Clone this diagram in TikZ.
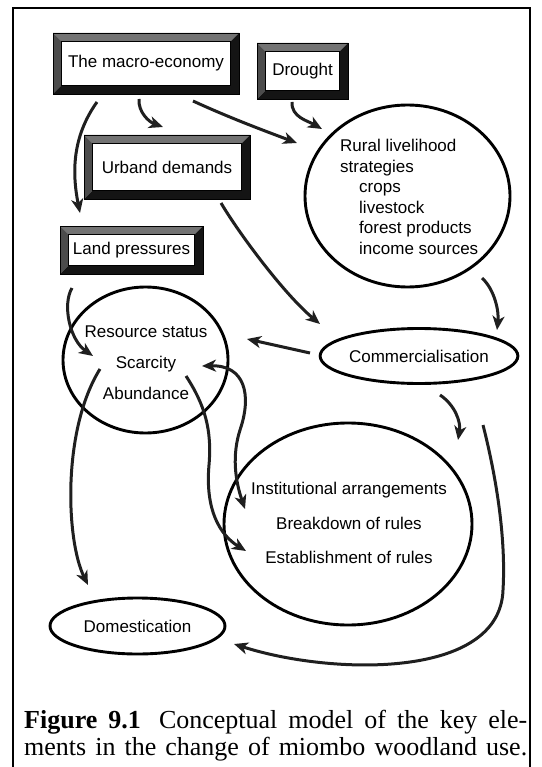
\documentclass[tikz,border=0pt]{standalone}
\usepackage{fontspec}
\setmainfont{Liberation Serif}
\setsansfont{Liberation Sans}
\usepackage{tikz}
\usetikzlibrary{arrows.meta,shapes.geometric,calc}

\newcommand{\diagfont}{\sffamily\fontsize{17}{20.6}\selectfont}

\begin{document}
\begin{tikzpicture}[
    x=1pt, y=-1pt,
    bevelbox/.style={rectangle, draw=black, line width=0.6pt, fill=white,
                     font=\diagfont, inner sep=0pt,
                     path picture={
      \coordinate (bnw) at (path picture bounding box.north west);
      \coordinate (bne) at (path picture bounding box.north east);
      \coordinate (bsw) at (path picture bounding box.south west);
      \coordinate (bse) at (path picture bounding box.south east);
      \fill[black!55] (bnw) -- (bne) -- ([shift={(-8.5pt,-8.5pt)}]bne)
        -- ([shift={(8.5pt,-8.5pt)}]bnw) -- cycle;
      \fill[black!70] (bnw) -- ([shift={(8.5pt,-8.5pt)}]bnw)
        -- ([shift={(8.5pt,8.5pt)}]bsw) -- (bsw) -- cycle;
      \fill[black!92] (bne) -- (bse) -- (bsw) -- ([shift={(8.5pt,8.5pt)}]bsw)
        -- ([shift={(-8.5pt,8.5pt)}]bse) -- ([shift={(-8.5pt,-8.5pt)}]bne) -- cycle;
      \draw[line width=0.6pt] ([shift={(8.5pt,-8.5pt)}]bnw)
        rectangle ([shift={(-8.5pt,8.5pt)}]bse);
    }},
    oval/.style={ellipse, draw=black, line width=2.9pt, font=\diagfont,
                 inner sep=0pt},
    words/.style={font=\diagfont, inner sep=0pt},
    arrow/.style={->, line width=3pt, draw=black!88,
                  >={Stealth[length=14pt,width=12pt,inset=4pt]}},
    twoway/.style={arrow, <->}
]
\useasboundingbox (0,0) rectangle (541,767);
\draw[line width=1.5pt] (13,767) -- (13,8) -- (530,8) -- (530,767);

% driving factors
\node[bevelbox, minimum width=186pt, minimum height=61pt] (macro) at (146,63.5)
  {The macro-economy};
\node[bevelbox, minimum width=91pt, minimum height=56pt] (drought) at (302.5,71)
  {Drought};
\node[bevelbox, minimum width=166pt, minimum height=64pt] (urban) at (167,167)
  {Urband demands};
\node[bevelbox, minimum width=143pt, minimum height=48pt] (land) at (131.5,250)
  {Land pressures};

% states and responses
\node[oval, minimum width=205pt, minimum height=182pt] (rural) at (407.5,196) {};
\node[words, anchor=north west, align=left] (ruraltxt) at (340,139)
  {Rural livelihood\\strategies\\\hspace*{19pt}crops\\\hspace*{19pt}livestock\\
   \hspace*{19pt}forest products\\\hspace*{19pt}income sources};
\node[oval, minimum width=165pt, minimum height=146pt] (resource) at (145.5,360) {};
\node[words, align=center, font=\sffamily\fontsize{17}{31}\selectfont]
  (resourcetxt) at (146,363) {Resource status\\Scarcity\\Abundance};
\node[oval, minimum width=182pt, minimum height=55pt] (comm) at (419,356)
  {Commercialisation};
\node[oval, minimum width=248pt, minimum height=202pt] (inst) at (348,524) {};
\node[words, align=center, font=\sffamily\fontsize{17}{34.5}\selectfont]
  (insttxt) at (349,523)
  {Institutional arrangements\\Breakdown of rules\\Establishment of rules};
\node[oval, minimum width=175pt, minimum height=56pt] (dom) at (137.5,626)
  {Domestication};

% links
\draw[arrow] ($(macro)+(-49,38.5)$) .. controls +(-25,35) and +(-8,-40)
  .. ($(land)+(-51.5,-37)$);
\draw[arrow] ($(macro)+(-7,35.5)$) .. controls +(-1,13) and +(-14,-5)
  .. ($(urban)+(-4,-40)$);
\draw[arrow] ($(macro)+(47,37.5)$) .. controls +(37,17) and +(-32,-12)
  .. ($(rural)+(-110.5,-53)$);
\draw[arrow] ($(drought)+(-10.5,31)$) .. controls +(-1,15) and +(-14,-8)
  .. ($(rural)+(-85.5,-67)$);
\draw[arrow] ($(urban)+(54,36)$) .. controls +(19,32) and +(-35,-29)
  .. ($(comm)+(-99,-32)$);
\draw[arrow] ($(rural)+(74.5,82)$) .. controls +(13,12) and +(2,-18)
  .. ($(comm)+(78,-26)$);
\draw[arrow] ($(comm)+(-109,-3)$) -- ($(resource)+(101.5,-21)$);
\draw[arrow] ($(land)+(-59.5,38)$) .. controls +(-10,17) and +(-23,-16)
  .. ($(resource)+(-52.5,-4)$);
\draw[arrow] ($(comm)+(21,39)$) .. controls +(15,10) and +(3,-18)
  .. ($(inst)+(110,-84)$);
\draw[arrow] ($(comm)+(64,69)$) .. controls +(14,55) and +(3,-50)
  .. ($(inst)+(155,66)$) .. controls +(-3,90) and +(96,31)
  .. ($(dom)+(96.5,18)$);
\draw[arrow] ($(resource)+(-45.5,9)$) .. controls +(-38,61) and +(-22,-45)
  .. ($(dom)+(-49.5,-41)$);
\draw[arrow] ($(resource)+(40.5,16)$) .. controls +(19,29) and +(3,-35)
  .. ($(inst)+(-139,-59)$) .. controls +(-4,45) and +(-26,-16)
  .. ($(inst)+(-102,27)$);
\draw[twoway] ($(inst)+(-103,-15)$) .. controls +(-10,-29) and +(-8,25)
  .. ($(inst)+(-108,-94)$) .. controls +(12,-35) and +(43,-1)
  .. ($(resource)+(56.5,6)$);

% caption
\node[anchor=base west, inner sep=0pt, font=\rmfamily\fontsize{26}{27}\selectfont]
  (capa) at (24,728)
  {\makebox[503pt][s]{\textbf{Figure 9.1}\hspace{0.7em}Conceptual model of the key ele-}};
\node[anchor=base west, inner sep=0pt, font=\rmfamily\fontsize{26}{27}\selectfont]
  (capb) at (24,755)
  {\makebox[503pt][s]{ments in the change of miombo woodland use.}};
\end{tikzpicture}
\end{document}
